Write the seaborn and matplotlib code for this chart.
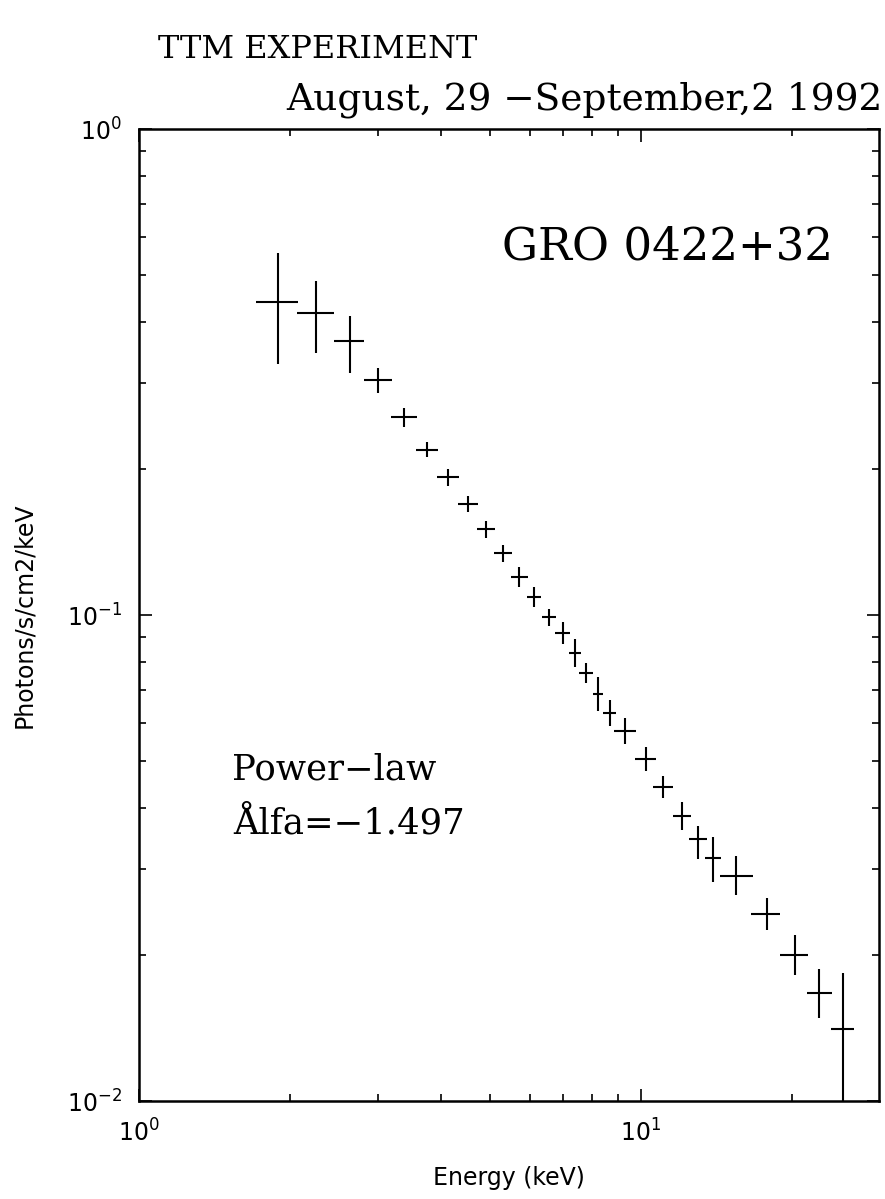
import numpy as np
import pandas as pd
import matplotlib
matplotlib.use('Agg')
import matplotlib.pyplot as plt
import matplotlib.ticker as mticker
import seaborn as sns

# bin centres (keV) and flux (photons/s/cm2/keV), with the bin edges and flux bounds
energy = [1.894, 2.258, 2.63, 2.995, 3.371, 3.755, 4.134, 4.527, 4.915, 5.314,
          5.728, 6.122, 6.555, 6.984, 7.396, 7.784, 8.204, 8.664, 9.29, 10.22,
          11.08, 12.05, 12.98, 13.92, 15.49, 17.78, 20.22, 22.64, 25.19]
flux = [0.441, 0.418, 0.366, 0.304, 0.255, 0.219, 0.192, 0.169, 0.150, 0.134,
        0.120, 0.109, 0.0989, 0.0920, 0.0834, 0.0759, 0.0687, 0.0630, 0.0577, 0.0505,
        0.0443, 0.0385, 0.0346, 0.0316, 0.0290, 0.0243, 0.0200, 0.0167, 0.0141]
e_lo = [1.71, 2.07, 2.45, 2.81, 3.18, 3.57, 3.93, 4.32, 4.72, 5.11,
        5.51, 5.92, 6.34, 6.75, 7.19, 7.54, 8.01, 8.42, 8.83, 9.74,
        10.58, 11.56, 12.46, 13.42, 14.36, 16.53, 18.90, 21.40, 23.84]
e_hi = [2.08, 2.45, 2.81, 3.19, 3.58, 3.95, 4.35, 4.74, 5.12, 5.53,
        5.95, 6.33, 6.78, 7.22, 7.61, 8.04, 8.41, 8.91, 9.77, 10.72,
        11.60, 12.56, 13.52, 14.44, 16.70, 18.94, 21.49, 23.95, 26.60]
f_lo = [0.328, 0.346, 0.315, 0.286, 0.244, 0.211, 0.184, 0.163, 0.144, 0.1286,
        0.1143, 0.104, 0.0949, 0.0873, 0.0780, 0.0725, 0.0634, 0.0592, 0.0543, 0.0477,
        0.0421, 0.0361, 0.0315, 0.0282, 0.0266, 0.0225, 0.0182, 0.0148, 0.005]
f_hi = [0.556, 0.487, 0.413, 0.323, 0.267, 0.227, 0.200, 0.176, 0.156, 0.1396,
        0.1258, 0.114, 0.1031, 0.0969, 0.0891, 0.0795, 0.0745, 0.0670, 0.0614, 0.0535,
        0.0466, 0.0413, 0.0368, 0.0350, 0.0319, 0.0262, 0.0220, 0.0187, 0.0183]

df = pd.DataFrame({'energy': energy, 'flux': flux,
                   'e_lo': e_lo, 'e_hi': e_hi, 'f_lo': f_lo, 'f_hi': f_hi})

sns.set_style('ticks')
plt.rcParams['font.family'] = ['DejaVu Sans']
plt.rcParams['mathtext.fontset'] = 'dejavusans'
plt.rcParams['text.color'] = 'black'
plt.rcParams['axes.labelcolor'] = 'black'

fig = plt.figure(figsize=(8.85, 11.99), dpi=100)
ax = fig.add_axes([0.1565, 0.0817, 0.8362, 0.8107])

xerr = np.array([df['energy'] - df['e_lo'], df['e_hi'] - df['energy']])
yerr = np.array([df['flux'] - df['f_lo'], df['f_hi'] - df['flux']])
ax.errorbar(df['energy'], df['flux'], xerr=xerr, yerr=yerr,
            fmt='none', ecolor='black', elinewidth=1.5, capsize=0)

ax.set_xscale('log')
ax.set_yscale('log')
ax.set_xlim(1, 29.7)
ax.set_ylim(0.01, 1)
ax.xaxis.set_minor_formatter(mticker.NullFormatter())
ax.yaxis.set_minor_formatter(mticker.NullFormatter())

ax.tick_params(which='both', direction='in', top=True, right=True,
               colors='black', labelsize=17)
ax.tick_params(which='major', length=9, width=1.2)
ax.tick_params(which='minor', length=5, width=1.2)
ax.tick_params(axis='x', pad=13)
ax.tick_params(axis='y', pad=12)
for s in ax.spines.values():
    s.set_linewidth(1.8)
    s.set_color('black')

ax.set_xlabel('Energy (keV)', fontsize=17, labelpad=14)
ax.set_ylabel('Photons/s/cm2/keV', fontsize=17, labelpad=22)

serif = ['DejaVu Serif']
fig.text(158 / 885, 1 - 58 / 1199, 'TTM EXPERIMENT', fontsize=23,
         family=serif, ha='left', va='baseline')
fig.text(882 / 885, 1 - 110 / 1199, 'August, 29 \u2212September,2 1992',
         fontsize=27, family=serif, ha='right', va='baseline')
fig.text(502 / 885, 1 - 259 / 1199, 'GRO 0422+32', fontsize=32.5,
         family=serif, ha='left', va='baseline')
fig.text(232 / 885, 1 - 779 / 1199, 'Power\u2212law', fontsize=25.5,
         family=serif, ha='left', va='baseline')
fig.text(233 / 885, 1 - 834 / 1199, '\u00c5lfa=\u22121.497', fontsize=25.5,
         family=serif, ha='left', va='baseline')

fig.savefig('out.png', dpi=100, facecolor='white')
